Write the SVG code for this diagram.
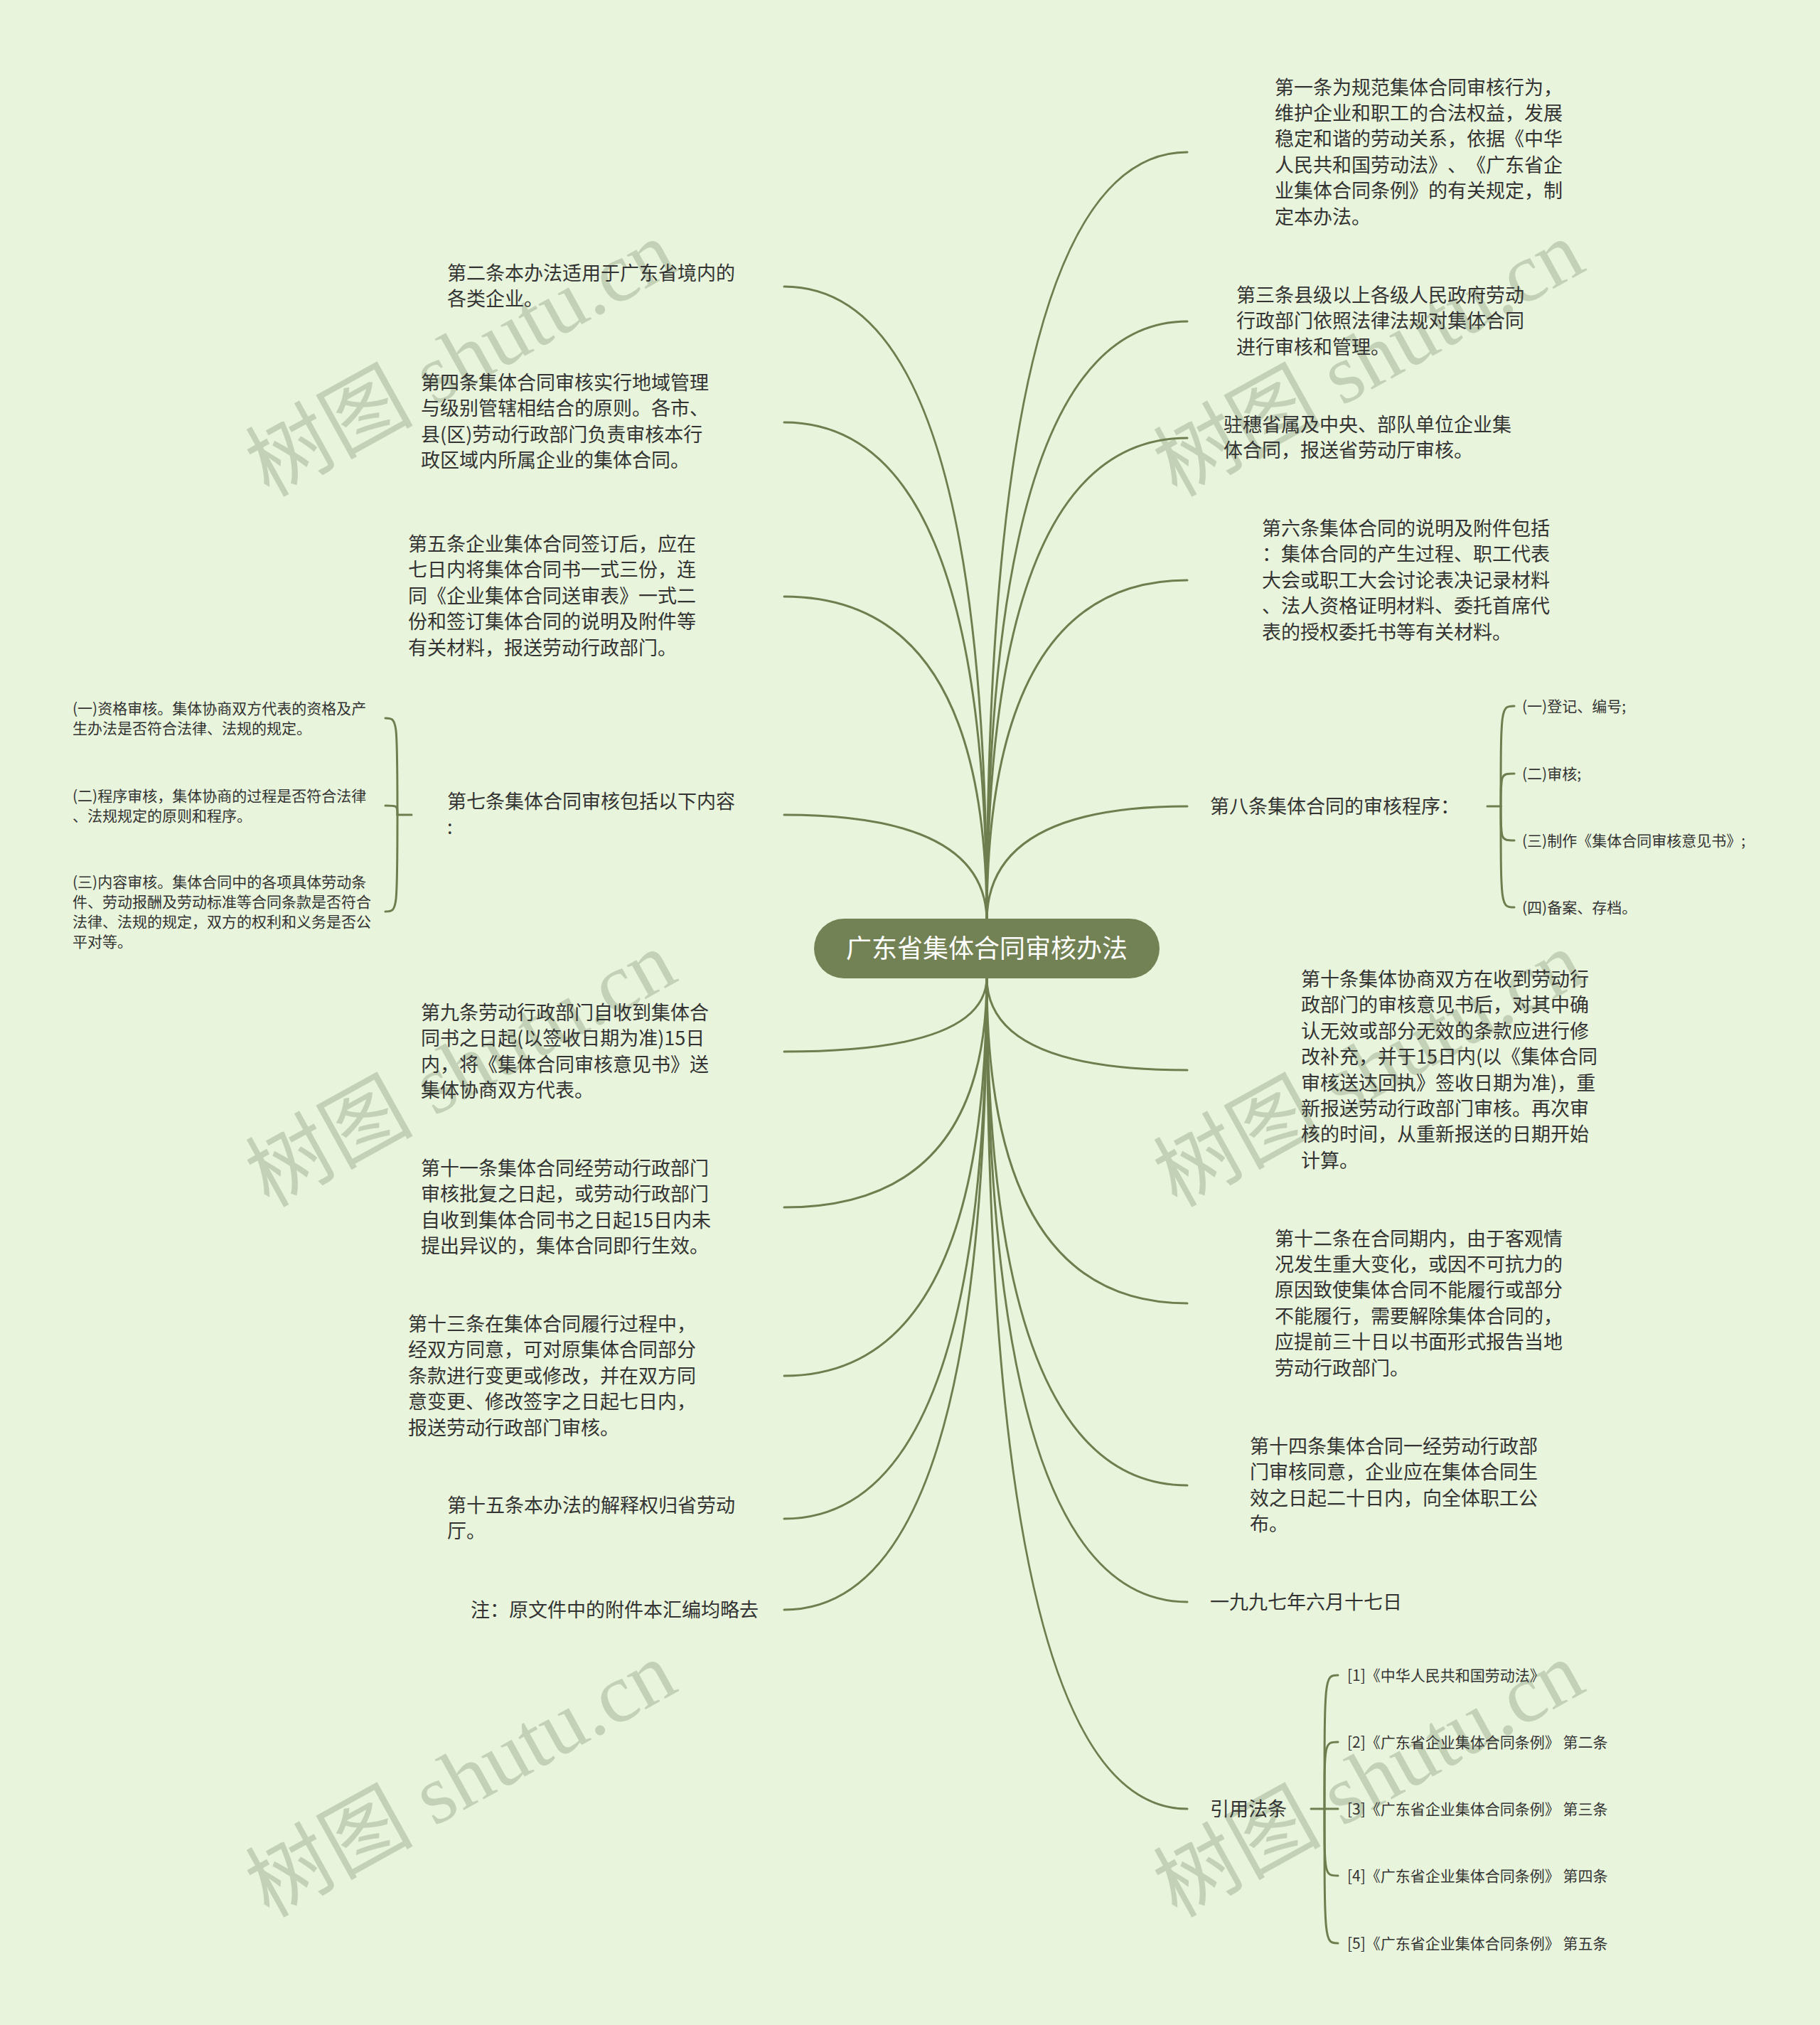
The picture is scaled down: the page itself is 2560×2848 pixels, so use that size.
<svg xmlns="http://www.w3.org/2000/svg" width="2560" height="2848" viewBox="0 0 2560 2848">
<style>
.bg{fill:#E8F5DC}
.ln{fill:none;stroke:#6E7E4E;stroke-width:3;stroke-linecap:round}
.t{font-family:"Noto Sans CJK SC","Liberation Sans",sans-serif;font-size:27px;fill:#333333;text-spacing-trim:space-all}
.s{font-family:"Noto Sans CJK SC","Liberation Sans",sans-serif;font-size:21px;fill:#333333;text-spacing-trim:space-all}
.root{fill:#738254}
.rt{font-family:"Noto Sans CJK SC","Liberation Sans",sans-serif;font-size:36px;fill:#FFFFFF}
.wm{font-family:"Liberation Serif","Noto Sans CJK SC",serif;font-size:118px;fill:#B7C6AA;opacity:0.75}
</style>
<rect class="bg" x="0" y="0" width="2560" height="2848"/>
<g id="watermarks">
<text class="wm" transform="translate(378,700) rotate(-29)">树图 shutu.cn</text>
<text class="wm" transform="translate(1655,700) rotate(-29)">树图 shutu.cn</text>
<text class="wm" transform="translate(378,1699) rotate(-29)">树图 shutu.cn</text>
<text class="wm" transform="translate(1655,1699) rotate(-29)">树图 shutu.cn</text>
<text class="wm" transform="translate(378,2698) rotate(-29)">树图 shutu.cn</text>
<text class="wm" transform="translate(1655,2698) rotate(-29)">树图 shutu.cn</text>
</g>
<g id="connectors">
<path class="ln" d="M1388 1296 Q1388 403 1103 403"/>
<path class="ln" d="M1388 1296 Q1388 594 1103 594"/>
<path class="ln" d="M1388 1296 Q1388 839 1103 839"/>
<path class="ln" d="M1388 1296 Q1388 1146 1103 1146"/>
<path class="ln" d="M1388 1374 Q1388 1479 1103 1479"/>
<path class="ln" d="M1388 1374 Q1388 1698 1103 1698"/>
<path class="ln" d="M1388 1374 Q1388 1935 1103 1935"/>
<path class="ln" d="M1388 1374 Q1388 2136 1103 2136"/>
<path class="ln" d="M1388 1374 Q1388 2264 1103 2264"/>
<path class="ln" d="M1388 1296 Q1388 214 1670 214"/>
<path class="ln" d="M1388 1296 Q1388 452 1670 452"/>
<path class="ln" d="M1388 1296 Q1388 616 1670 616"/>
<path class="ln" d="M1388 1296 Q1388 816 1670 816"/>
<path class="ln" d="M1388 1296 Q1388 1134 1670 1134"/>
<path class="ln" d="M1388 1374 Q1388 1505 1670 1505"/>
<path class="ln" d="M1388 1374 Q1388 1833 1670 1833"/>
<path class="ln" d="M1388 1374 Q1388 2089 1670 2089"/>
<path class="ln" d="M1388 1374 Q1388 2253 1670 2253"/>
<path class="ln" d="M1388 1374 Q1388 2544 1670 2544"/>
<path class="ln" d="M579 1146 L559 1146"/>
<path class="ln" d="M559 1146 C559 1010 559 1010 542 1010"/>
<path class="ln" d="M559 1146 C559 1133 559 1133 542 1133"/>
<path class="ln" d="M559 1146 C559 1282 559 1282 542 1282"/>
<path class="ln" d="M2092 1134 L2111 1134"/>
<path class="ln" d="M2111 1134 C2111 993 2111 993 2130 993"/>
<path class="ln" d="M2111 1134 C2111 1088 2111 1088 2130 1088"/>
<path class="ln" d="M2111 1134 C2111 1182 2111 1182 2130 1182"/>
<path class="ln" d="M2111 1134 C2111 1276 2111 1276 2130 1276"/>
<path class="ln" d="M1844 2544 L1882 2544"/>
<path class="ln" d="M1863 2544 C1863 2356 1863 2356 1882 2356"/>
<path class="ln" d="M1863 2544 C1863 2450 1863 2450 1882 2450"/>
<path class="ln" d="M1863 2544 C1863 2638 1863 2638 1882 2638"/>
<path class="ln" d="M1863 2544 C1863 2733 1863 2733 1882 2733"/>
</g>
<g id="root">
<rect class="root" x="1145" y="1292" width="486" height="84" rx="42"/>
<text class="rt" x="1388" y="1347" text-anchor="middle">广东省集体合同审核办法</text>
</g>
<g id="n2"><text class="t" x="629" y="394"><tspan x="629">第二条本办法适用于广东省境内的</tspan><tspan x="629" dy="36.4">各类企业。</tspan></text></g>
<g id="n4"><text class="t" x="592" y="548"><tspan x="592">第四条集体合同审核实行地域管理</tspan><tspan x="592" dy="36.4">与级别管辖相结合的原则。各市、</tspan><tspan x="592" dy="36.4">县(区)劳动行政部门负责审核本行</tspan><tspan x="592" dy="36.4">政区域内所属企业的集体合同。</tspan></text></g>
<g id="n5"><text class="t" x="574" y="775"><tspan x="574">第五条企业集体合同签订后，应在</tspan><tspan x="574" dy="36.4">七日内将集体合同书一式三份，连</tspan><tspan x="574" dy="36.4">同《企业集体合同送审表》一式二</tspan><tspan x="574" dy="36.4">份和签订集体合同的说明及附件等</tspan><tspan x="574" dy="36.4">有关材料，报送劳动行政部门。</tspan></text></g>
<g id="n7"><text class="t" x="629" y="1137"><tspan x="629">第七条集体合同审核包括以下内容</tspan><tspan x="629" dy="36.4">:</tspan></text></g>
<g id="n7a"><text class="s" x="102" y="1003.5"><tspan x="102">(一)资格审核。集体协商双方代表的资格及产</tspan><tspan x="102" dy="28">生办法是否符合法律、法规的规定。</tspan></text></g>
<g id="n7b"><text class="s" x="102" y="1126.5"><tspan x="102">(二)程序审核，集体协商的过程是否符合法律</tspan><tspan x="102" dy="28">、法规规定的原则和程序。</tspan></text></g>
<g id="n7c"><text class="s" x="102" y="1247.5"><tspan x="102">(三)内容审核。集体合同中的各项具体劳动条</tspan><tspan x="102" dy="28">件、劳动报酬及劳动标准等合同条款是否符合</tspan><tspan x="102" dy="28">法律、法规的规定，双方的权利和义务是否公</tspan><tspan x="102" dy="28">平对等。</tspan></text></g>
<g id="n9"><text class="t" x="592" y="1434"><tspan x="592">第九条劳动行政部门自收到集体合</tspan><tspan x="592" dy="36.4">同书之日起(以签收日期为准)15日</tspan><tspan x="592" dy="36.4">内，将《集体合同审核意见书》送</tspan><tspan x="592" dy="36.4">集体协商双方代表。</tspan></text></g>
<g id="n11"><text class="t" x="592" y="1653"><tspan x="592">第十一条集体合同经劳动行政部门</tspan><tspan x="592" dy="36.4">审核批复之日起，或劳动行政部门</tspan><tspan x="592" dy="36.4">自收到集体合同书之日起15日内未</tspan><tspan x="592" dy="36.4">提出异议的，集体合同即行生效。</tspan></text></g>
<g id="n13"><text class="t" x="574" y="1872"><tspan x="574">第十三条在集体合同履行过程中，</tspan><tspan x="574" dy="36.4">经双方同意，可对原集体合同部分</tspan><tspan x="574" dy="36.4">条款进行变更或修改，并在双方同</tspan><tspan x="574" dy="36.4">意变更、修改签字之日起七日内，</tspan><tspan x="574" dy="36.4">报送劳动行政部门审核。</tspan></text></g>
<g id="n15"><text class="t" x="629" y="2127"><tspan x="629">第十五条本办法的解释权归省劳动</tspan><tspan x="629" dy="36.4">厅。</tspan></text></g>
<g id="note"><text class="t" x="662" y="2273.5">注：原文件中的附件本汇编均略去</text></g>
<g id="n1"><text class="t" x="1793" y="132.5"><tspan x="1793">第一条为规范集体合同审核行为，</tspan><tspan x="1793" dy="36.4">维护企业和职工的合法权益，发展</tspan><tspan x="1793" dy="36.4">稳定和谐的劳动关系，依据《中华</tspan><tspan x="1793" dy="36.4">人民共和国劳动法》、《广东省企</tspan><tspan x="1793" dy="36.4">业集体合同条例》的有关规定，制</tspan><tspan x="1793" dy="36.4">定本办法。</tspan></text></g>
<g id="n3"><text class="t" x="1739" y="425"><tspan x="1739">第三条县级以上各级人民政府劳动</tspan><tspan x="1739" dy="36.4">行政部门依照法律法规对集体合同</tspan><tspan x="1739" dy="36.4">进行审核和管理。</tspan></text></g>
<g id="nz"><text class="t" x="1721" y="607"><tspan x="1721">驻穗省属及中央、部队单位企业集</tspan><tspan x="1721" dy="36.4">体合同，报送省劳动厅审核。</tspan></text></g>
<g id="n6"><text class="t" x="1775" y="753"><tspan x="1775">第六条集体合同的说明及附件包括</tspan><tspan x="1775" dy="36.4">：集体合同的产生过程、职工代表</tspan><tspan x="1775" dy="36.4">大会或职工大会讨论表决记录材料</tspan><tspan x="1775" dy="36.4">、法人资格证明材料、委托首席代</tspan><tspan x="1775" dy="36.4">表的授权委托书等有关材料。</tspan></text></g>
<g id="n8"><text class="t" x="1702" y="1143.5">第八条集体合同的审核程序：</text></g>
<g id="n8a"><text class="s" x="2141" y="1000.5">(一)登记、编号;</text></g>
<g id="n8b"><text class="s" x="2141" y="1095.5">(二)审核;</text></g>
<g id="n8c"><text class="s" x="2141" y="1189.5">(三)制作《集体合同审核意见书》;</text></g>
<g id="n8d"><text class="s" x="2141" y="1283.5">(四)备案、存档。</text></g>
<g id="n10"><text class="t" x="1830" y="1387"><tspan x="1830">第十条集体协商双方在收到劳动行</tspan><tspan x="1830" dy="36.4">政部门的审核意见书后，对其中确</tspan><tspan x="1830" dy="36.4">认无效或部分无效的条款应进行修</tspan><tspan x="1830" dy="36.4">改补充，并于15日内(以《集体合同</tspan><tspan x="1830" dy="36.4">审核送达回执》签收日期为准)，重</tspan><tspan x="1830" dy="36.4">新报送劳动行政部门审核。再次审</tspan><tspan x="1830" dy="36.4">核的时间，从重新报送的日期开始</tspan><tspan x="1830" dy="36.4">计算。</tspan></text></g>
<g id="n12"><text class="t" x="1793" y="1751.5"><tspan x="1793">第十二条在合同期内，由于客观情</tspan><tspan x="1793" dy="36.4">况发生重大变化，或因不可抗力的</tspan><tspan x="1793" dy="36.4">原因致使集体合同不能履行或部分</tspan><tspan x="1793" dy="36.4">不能履行，需要解除集体合同的，</tspan><tspan x="1793" dy="36.4">应提前三十日以书面形式报告当地</tspan><tspan x="1793" dy="36.4">劳动行政部门。</tspan></text></g>
<g id="n14"><text class="t" x="1758" y="2044"><tspan x="1758">第十四条集体合同一经劳动行政部</tspan><tspan x="1758" dy="36.4">门审核同意，企业应在集体合同生</tspan><tspan x="1758" dy="36.4">效之日起二十日内，向全体职工公</tspan><tspan x="1758" dy="36.4">布。</tspan></text></g>
<g id="date"><text class="t" x="1702" y="2262.5">一九九七年六月十七日</text></g>
<g id="refs"><text class="t" x="1702" y="2553.5">引用法条</text></g>
<g id="ref1"><text class="s" x="1895" y="2363.5">[1]《中华人民共和国劳动法》</text></g>
<g id="ref2"><text class="s" x="1895" y="2457.5">[2]《广东省企业集体合同条例》 第二条</text></g>
<g id="ref3"><text class="s" x="1895" y="2551.5">[3]《广东省企业集体合同条例》 第三条</text></g>
<g id="ref4"><text class="s" x="1895" y="2645.5">[4]《广东省企业集体合同条例》 第四条</text></g>
<g id="ref5"><text class="s" x="1895" y="2740.5">[5]《广东省企业集体合同条例》 第五条</text></g>
</svg>
